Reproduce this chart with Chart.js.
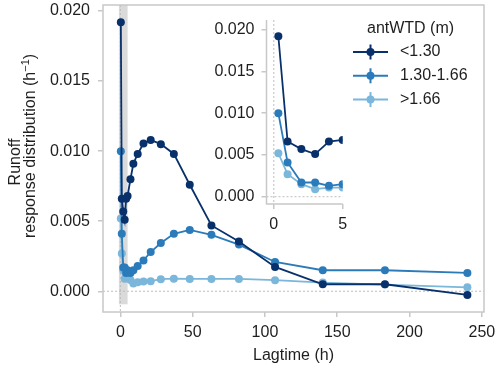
<!DOCTYPE html>
<html><head><meta charset="utf-8">
<script src="https://cdn.jsdelivr.net/npm/chart.js@4"></script>
<style>
html,body{margin:0;padding:0;background:#fff;}
#wrap{position:relative;width:500px;height:369px;overflow:hidden;}
#main{position:absolute;left:0;top:0;}
#inset{position:absolute;left:200px;top:10px;}
</style></head><body>
<div id="wrap">
<canvas id="main" width="500" height="369"></canvas>
<canvas id="inset" width="150" height="230"></canvas>
</div>
<script>
// ---- data ----
const lagtimes = [0.33, 1, 2, 3, 4, 5, 7, 9, 12, 16, 21, 28, 37, 48, 63, 82, 107, 140, 183, 240];
const wtdLow  = [0.0192, 0.0066, 0.0057, 0.0051, 0.0066, 0.0068, 0.0080, 0.0091, 0.0098, 0.01055, 0.0108, 0.0105, 0.0098, 0.0076, 0.0047, 0.00355, 0.00174, 0.0005, 0.0005, -0.00026];
const wtdMid  = [0.0100, 0.0041, 0.0017, 0.0017, 0.0013, 0.0015, 0.0013, 0.0015, 0.0018, 0.0022, 0.0028, 0.00344, 0.0041, 0.00438, 0.00403, 0.00333, 0.00209, 0.0015, 0.0015, 0.00131];
const wtdHigh = [0.0052, 0.0027, 0.0015, 0.0009, 0.0011, 0.0011, 0.0008, 0.00055, 0.00065, 0.0007, 0.00072, 0.00086, 0.0009, 0.00088, 0.00088, 0.00088, 0.00079, 0.00062, 0.00048, 0.00028];
const seriesLabels = ['<1.30', '1.30-1.66', '>1.66'];
const legendTitle = 'antWTD (m)';
const xTicksMain = [0, 50, 100, 150, 200, 250];
const xTicksInset = [0, 5];
const yTicks = [0, 0.005, 0.010, 0.015, 0.020];
const bandRange = [-1, 5];
const xTitle = 'Lagtime (h)';
const yTitle1 = 'Runoff';
const yTitle2 = 'response distribution (h';
const yTitleSup = '\u22121';

// ---- styles ----
const FONT = "'Liberation Sans', Arial, Helvetica, sans-serif";
const COLORS = ['#08306b', '#2b7bba', '#7bb6db'];
const FRAME = '#c8c8c8';
const TEXT = '#1e1e1e';

function makeDatasets() {
  return [wtdLow, wtdMid, wtdHigh].map((arr, i) => ({
    label: seriesLabels[i],
    data: lagtimes.map((t, j) => ({x: t, y: arr[j]})),
    borderColor: COLORS[i],
    backgroundColor: COLORS[i],
    borderWidth: 1.8,
    pointRadius: 4,
    pointHoverRadius: 4,
    pointBorderWidth: 0,
    tension: 0,
    clip: 0
  }));
}

function dotted(ctx, x1, y1, x2, y2) {
  ctx.save();
  ctx.strokeStyle = '#bdbdbd';
  ctx.lineWidth = 1;
  ctx.setLineDash([2, 2]);
  ctx.beginPath(); ctx.moveTo(x1, y1); ctx.lineTo(x2, y2); ctx.stroke();
  ctx.restore();
}

const mainDecor = {
  id: 'mainDecor',
  beforeDatasetsDraw(chart) {
    const {ctx, chartArea: a, scales: {x, y}} = chart;
    ctx.save();
    const bx1 = x.getPixelForValue(bandRange[0]);
    const bx2 = x.getPixelForValue(bandRange[1]);
    const by2 = y.getPixelForValue(-0.00093);
    ctx.fillStyle = '#dadada';
    ctx.fillRect(bx1, a.top, bx2 - bx1, by2 - a.top);
    ctx.restore();
    dotted(ctx, a.left, y.getPixelForValue(0), a.right, y.getPixelForValue(0));
    dotted(ctx, x.getPixelForValue(0), a.top, x.getPixelForValue(0), a.bottom);
    ctx.save();
    ctx.strokeStyle = FRAME;
    ctx.lineWidth = 1.5;
    ctx.strokeRect(a.left, a.top, a.right - a.left, a.bottom - a.top);
    ctx.restore();
  },
  afterDraw(chart) {
    const {ctx} = chart;
    ctx.save();
    ctx.fillStyle = TEXT;
    ctx.textBaseline = 'alphabetic';
    ctx.font = '16px ' + FONT;
    ctx.translate(20, 162);
    ctx.rotate(-Math.PI / 2);
    ctx.textAlign = 'center';
    ctx.fillText(yTitle1, 0, 0);
    ctx.restore();

    ctx.save();
    ctx.fillStyle = TEXT;
    ctx.textBaseline = 'alphabetic';
    ctx.translate(35, 146);
    ctx.rotate(-Math.PI / 2);
    ctx.font = '16px ' + FONT;
    const w1 = ctx.measureText(yTitle2).width;
    const w3 = ctx.measureText(')').width;
    ctx.font = '11px ' + FONT;
    const w2 = ctx.measureText(yTitleSup).width;
    const total = w1 + w2 + w3;
    let px = -total / 2;
    ctx.textAlign = 'left';
    ctx.font = '16px ' + FONT;
    ctx.fillText(yTitle2, px, 0); px += w1;
    ctx.font = '11px ' + FONT;
    ctx.fillText(yTitleSup, px, -6); px += w2;
    ctx.font = '16px ' + FONT;
    ctx.fillText(')', px, 0);
    ctx.restore();

    ctx.save();
    ctx.fillStyle = TEXT;
    ctx.font = '16px ' + FONT;
    ctx.textBaseline = 'middle';
    ctx.textAlign = 'left';
    ctx.fillText(legendTitle, 367, 29);
    chart.data.datasets.forEach((ds, i) => {
      const yy = 52 + i * 23.8;
      ctx.strokeStyle = ds.borderColor;
      ctx.fillStyle = ds.borderColor;
      ctx.lineWidth = 2;
      ctx.beginPath(); ctx.moveTo(353, yy); ctx.lineTo(388, yy); ctx.stroke();
      ctx.beginPath(); ctx.moveTo(370.5, yy - 7.5); ctx.lineTo(370.5, yy + 7.5); ctx.stroke();
      ctx.beginPath(); ctx.arc(370.5, yy, 4, 0, Math.PI * 2); ctx.fill();
      ctx.fillStyle = TEXT;
      ctx.fillText(ds.label, 400, yy);
    });
    ctx.restore();
  }
};

const insetDecor = {
  id: 'insetDecor',
  beforeDatasetsDraw(chart) {
    const {ctx, chartArea: a, scales: {x, y}} = chart;
    dotted(ctx, a.left, y.getPixelForValue(0), a.right, y.getPixelForValue(0));
    dotted(ctx, x.getPixelForValue(0), a.top, x.getPixelForValue(0), a.bottom);
    ctx.save();
    ctx.strokeStyle = FRAME;
    ctx.lineWidth = 1.5;
    ctx.beginPath();
    ctx.moveTo(a.left, a.top); ctx.lineTo(a.left, a.bottom); ctx.lineTo(a.right, a.bottom);
    ctx.stroke();
    ctx.restore();
  }
};

function axisCommon(tickList, fmt, pad, fitFn) {
  return {
    type: 'linear',
    afterBuildTicks: s => { s.ticks = tickList.map(v => ({value: v})); },
    afterFit: s => { fitFn(s); s.paddingTop = 0; s.paddingBottom = 0; s.paddingLeft = 0; s.paddingRight = 0; },
    grid: {drawOnChartArea: false, drawTicks: true, tickLength: 5, color: FRAME, lineWidth: 1.5},
    border: {display: false},
    ticks: {font: {family: FONT, size: 16}, color: TEXT, maxRotation: 0, autoSkip: false,
            padding: pad, callback: fmt}
  };
}

Chart.defaults.font.family = FONT;

new Chart(document.getElementById('main'), {
  type: 'line',
  data: {datasets: makeDatasets()},
  options: {
    responsive: false, animation: false, devicePixelRatio: 1,
    layout: {autoPadding: false, padding: {top: 5, right: 16, left: 0, bottom: 0}},
    plugins: {legend: {display: false}, tooltip: {enabled: false}},
    scales: {
      x: Object.assign(axisCommon(xTicksMain, v => String(v), 6, s => { s.height = 57; }), {
        min: -12, max: 251.5,
        title: {display: true, text: xTitle, color: TEXT, font: {family: FONT, size: 16}, padding: {top: 0, bottom: 4}}
      }),
      y: Object.assign(axisCommon(yTicks, v => Number(v).toFixed(3), 8, s => { s.width = 103; }), {
        min: -0.00148, max: 0.02043
      })
    }
  },
  plugins: [mainDecor]
});
new Chart(document.getElementById('inset'), {
  type: 'line',
  data: {datasets: makeDatasets()},
  options: {
    responsive: false, animation: false, devicePixelRatio: 1,
    layout: {autoPadding: false, padding: {top: 10, right: 7.3, left: 0, bottom: 0}},
    plugins: {legend: {display: false}, tooltip: {enabled: false}},
    scales: {
      x: Object.assign(axisCommon(xTicksInset, v => String(v), 6, s => { s.height = 36; }), {
        min: -0.53, max: 5
      }),
      y: Object.assign(axisCommon(yTicks, v => Number(v).toFixed(3), 7, s => { s.width = 66.5; }), {
        min: -0.00087, max: 0.02114
      })
    }
  },
  plugins: [insetDecor]
});
</script>
</body></html>
